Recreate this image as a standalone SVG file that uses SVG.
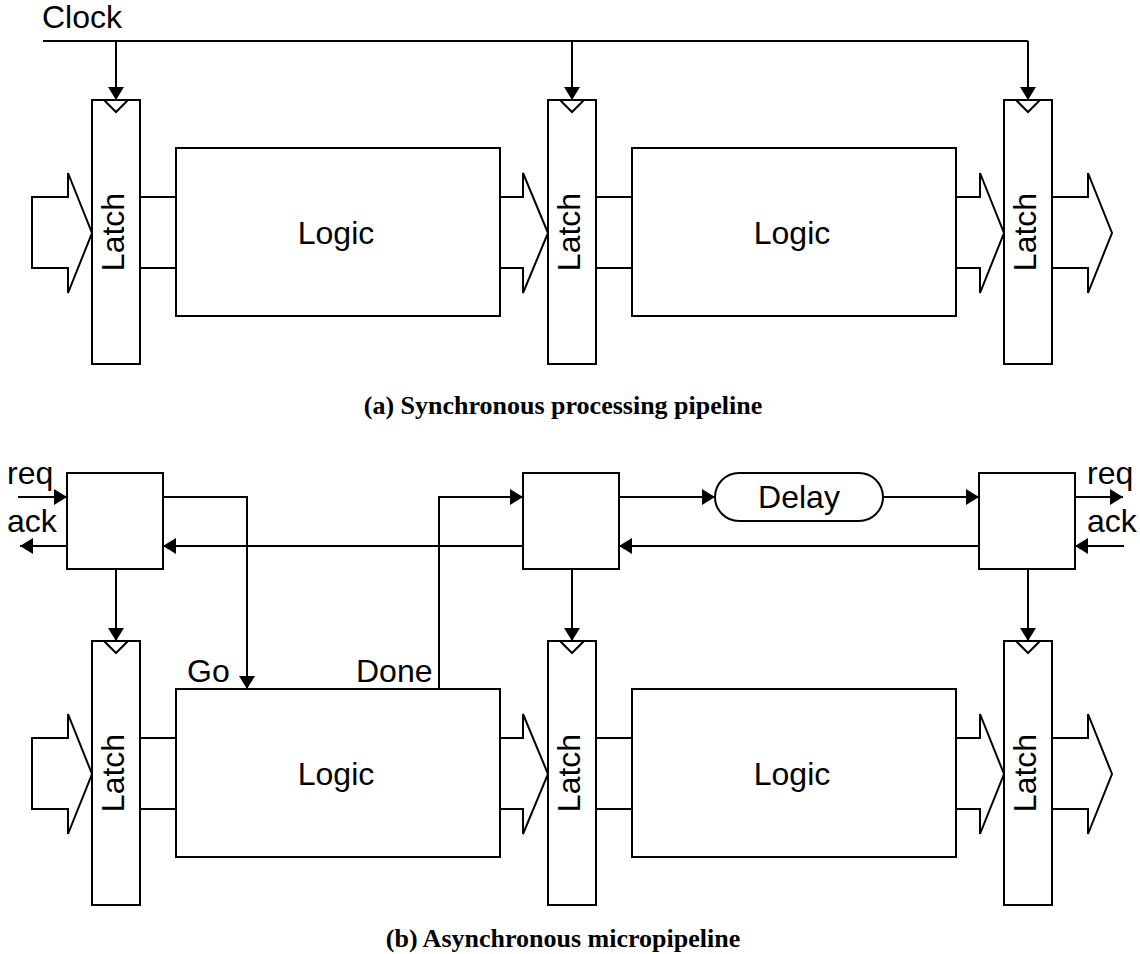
<svg xmlns="http://www.w3.org/2000/svg" width="1140" height="954" viewBox="0 0 1140 954">
  <defs>
    <marker id="ah" viewBox="0 0 13 16" refX="13" refY="8" markerWidth="13" markerHeight="16" markerUnits="userSpaceOnUse" orient="auto">
      <path d="M0,0 L13,8 L0,16 Z" fill="#000"/>
    </marker>
    <style>
      .box { fill: #fff; stroke: #000; stroke-width: 2; }
      .ln { fill: none; stroke: #000; stroke-width: 2; }
      .arr { fill: none; stroke: #000; stroke-width: 2; marker-end: url(#ah); }
      .bus { fill: #fff; stroke: #000; stroke-width: 2; stroke-linejoin: miter; }
      .lbl { font-family: "Liberation Sans", Arial, sans-serif; font-size: 32px; fill: #000; }
      .cap { font-family: "Liberation Serif", "Times New Roman", serif; font-size: 26px; font-weight: bold; fill: #000; text-anchor: middle; }
    </style>
  </defs>
  <rect width="1140" height="954" fill="#fff"/>

  <!-- (a) synchronous pipeline -->
  <g id="connectors-a">
    <path class="ln" d="M43,41 H1028"/>
    <path class="arr" d="M116,41 V100"/>
    <path class="arr" d="M572,41 V100"/>
    <path class="arr" d="M1028,41 V100"/>
    <path class="ln" d="M140,197 H176 M140,268 H176 M596,197 H632 M596,268 H632"/>
    <polygon class="bus" points="32,197 68,197 68,173 92,233 68,293 68,268 32,268"/>
    <polyline class="bus" points="500,197 523,197 523,173 548,233 523,293 523,268 500,268"/>
    <polyline class="bus" points="956,197 980,197 980,173 1004,233 980,293 980,268 956,268"/>
    <polyline class="bus" points="1052,197 1088,197 1088,173 1112,233 1088,293 1088,268 1052,268"/>
  </g>
  <text class="lbl" x="42" y="28">Clock</text>

  <g id="latch-a1">
    <rect class="box" x="92" y="100" width="48" height="264"/>
    <path class="ln" d="M104,100 L116,112 L128,100"/>
    <text class="lbl" text-anchor="middle" transform="translate(124,232) rotate(-90)">Latch</text>
  </g>
  <g id="logic-a1">
    <rect class="box" x="176" y="148" width="324" height="168"/>
    <text class="lbl" text-anchor="middle" x="336" y="244">Logic</text>
  </g>
  <g id="latch-a2">
    <rect class="box" x="548" y="100" width="48" height="264"/>
    <path class="ln" d="M560,100 L572,112 L584,100"/>
    <text class="lbl" text-anchor="middle" transform="translate(580,232) rotate(-90)">Latch</text>
  </g>
  <g id="logic-a2">
    <rect class="box" x="632" y="148" width="324" height="168"/>
    <text class="lbl" text-anchor="middle" x="792" y="244">Logic</text>
  </g>
  <g id="latch-a3">
    <rect class="box" x="1004" y="100" width="48" height="264"/>
    <path class="ln" d="M1016,100 L1028,112 L1040,100"/>
    <text class="lbl" text-anchor="middle" transform="translate(1036,232) rotate(-90)">Latch</text>
  </g>
  <text class="cap" x="563" y="414">(a) Synchronous processing pipeline</text>

  <!-- (b) asynchronous micropipeline -->
  <g id="connectors-b">
    <path class="arr" d="M18,497 H67"/>
    <path class="arr" d="M67,546 H20"/>
    <path class="arr" d="M163,497 H247 V689"/>
    <path class="arr" d="M439,689 V497 H523"/>
    <path class="arr" d="M619,497 H715"/>
    <path class="arr" d="M883,497 H979"/>
    <path class="arr" d="M1075,497 H1123"/>
    <path class="arr" d="M1124,546 H1075"/>
    <path class="arr" d="M979,546 H619"/>
    <path class="arr" d="M523,546 H163"/>
    <path class="arr" d="M116,569 V641"/>
    <path class="arr" d="M572,569 V641"/>
    <path class="arr" d="M1028,569 V641"/>
    <path class="ln" d="M140,738 H176 M140,809 H176 M596,738 H632 M596,809 H632"/>
    <polygon class="bus" points="32,738 68,738 68,714 92,774 68,834 68,809 32,809"/>
    <polyline class="bus" points="500,738 523,738 523,714 548,774 523,834 523,809 500,809"/>
    <polyline class="bus" points="956,738 980,738 980,714 1004,774 980,834 980,809 956,809"/>
    <polyline class="bus" points="1052,738 1088,738 1088,714 1112,774 1088,834 1088,809 1052,809"/>
  </g>
  <text class="lbl" x="7" y="484">req</text>
  <text class="lbl" x="7" y="532">ack</text>
  <text class="lbl" x="1087" y="484">req</text>
  <text class="lbl" x="1087" y="532">ack</text>
  <text class="lbl" x="187" y="682">Go</text>
  <text class="lbl" x="356" y="682">Done</text>

  <g id="ctrl-1"><rect class="box" x="67" y="473" width="96" height="96"/></g>
  <g id="ctrl-2"><rect class="box" x="523" y="473" width="96" height="96"/></g>
  <g id="ctrl-3"><rect class="box" x="979" y="473" width="96" height="96"/></g>
  <g id="delay">
    <rect class="box" x="715" y="473" width="168" height="48" rx="24" ry="24"/>
    <text class="lbl" text-anchor="middle" x="799" y="508">Delay</text>
  </g>

  <g id="latch-b1">
    <rect class="box" x="92" y="641" width="48" height="264"/>
    <path class="ln" d="M104,641 L116,653 L128,641"/>
    <text class="lbl" text-anchor="middle" transform="translate(124,773) rotate(-90)">Latch</text>
  </g>
  <g id="logic-b1">
    <rect class="box" x="176" y="689" width="324" height="168"/>
    <text class="lbl" text-anchor="middle" x="336" y="785">Logic</text>
  </g>
  <g id="latch-b2">
    <rect class="box" x="548" y="641" width="48" height="264"/>
    <path class="ln" d="M560,641 L572,653 L584,641"/>
    <text class="lbl" text-anchor="middle" transform="translate(580,773) rotate(-90)">Latch</text>
  </g>
  <g id="logic-b2">
    <rect class="box" x="632" y="689" width="324" height="168"/>
    <text class="lbl" text-anchor="middle" x="792" y="785">Logic</text>
  </g>
  <g id="latch-b3">
    <rect class="box" x="1004" y="641" width="48" height="264"/>
    <path class="ln" d="M1016,641 L1028,653 L1040,641"/>
    <text class="lbl" text-anchor="middle" transform="translate(1036,773) rotate(-90)">Latch</text>
  </g>
  <text class="cap" x="563" y="947">(b) Asynchronous micropipeline</text>
</svg>
